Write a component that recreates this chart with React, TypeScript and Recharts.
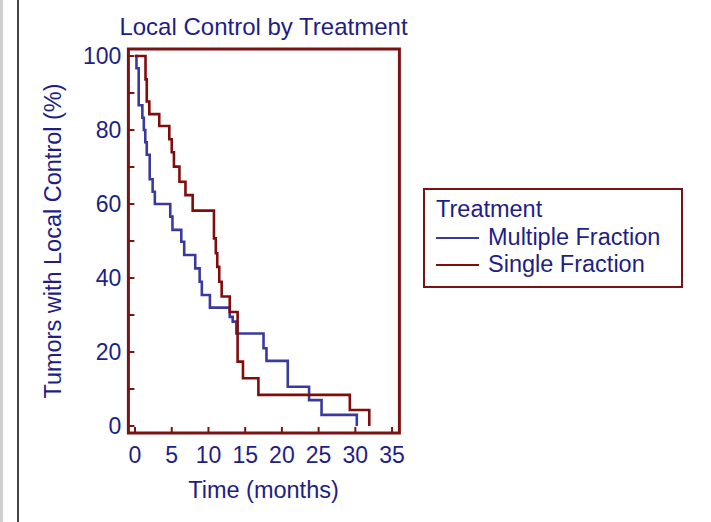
import React from 'react';
import { LineChart, Line, XAxis, YAxis, ReferenceArea, Legend } from 'recharts';

// Kaplan-Meier style step curves (months, % local control)
const multipleTime = [0, 0.2, 0.5, 1.0, 1.2, 1.4, 1.6, 2.0, 2.4, 2.7, 4.8, 5.1, 6.3, 6.7, 8.2, 8.8, 9.1, 10.2, 12.9, 13.3, 13.8, 17.5, 17.9, 20.8, 23.7, 25.4, 30.2];
const multipleLocal = [100, 96.7, 86.7, 83.3, 80, 76.7, 73.3, 66.7, 63.3, 60, 56.6, 53, 49.8, 46.2, 42.6, 39, 35.4, 32, 29.5, 28.2, 25, 21, 17.6, 10.6, 7, 3, 0];

const singleTime = [0, 1.43, 1.6, 1.95, 3.3, 4.67, 5.0, 5.3, 6.05, 6.87, 7.85, 10.75, 11.0, 11.2, 11.47, 11.8, 12.9, 13.97, 14.7, 16.8, 29.25, 31.9];
const singleLocal = [100, 93.7, 87.7, 84.3, 81.1, 77.5, 74, 70.1, 66, 62.4, 58.2, 50.7, 46.7, 43, 39, 35, 30.8, 17.4, 12.9, 8.4, 4.3, 0];

const xTicks = [0, 5, 10, 15, 20, 25, 30, 35];
const yTicks = [0, 10, 20, 30, 40, 50, 60, 70, 80, 90, 100];
const yLabelEvery = 20;

const xDomain: [number, number] = [-0.9, 36];
const yDomain: [number, number] = [-1.9, 101.9];

const NAVY = '#1e1e84';
const FRAME = '#7a1414';
const BLUE = '#3a3a9e';
const RED = '#800c0c';
const FONT = '"Liberation Sans", Arial, sans-serif';

const toSteps = (t: number[], v: number[]) => t.map((x, i) => ({ t: x, v: v[i] }));
const multipleData = toSteps(multipleTime, multipleLocal);
const singleData = toSteps(singleTime, singleLocal);

const YTick = (props: any) => {
  const { x, y, payload } = props;
  return (
    <g>
      <line x1={x} x2={x + 6} y1={y} y2={y} stroke={FRAME} strokeWidth={2} />
      {payload.value % yLabelEvery === 0 && (
        <text x={x - 7} y={y} dy={8} textAnchor="end" fill={NAVY} fontSize={23} fontFamily={FONT}>
          {payload.value}
        </text>
      )}
    </g>
  );
};

const XTick = (props: any) => {
  const { x, y, payload } = props;
  return (
    <g>
      <line x1={x} x2={x} y1={y} y2={y - 6} stroke={FRAME} strokeWidth={2} />
      <text x={x} y={y + 30} textAnchor="middle" fill={NAVY} fontSize={23} fontFamily={FONT}>
        {payload.value}
      </text>
    </g>
  );
};

const LegendBox = ({ payload }: any) => (
  <div
    style={{
      boxSizing: 'border-box',
      width: 260,
      height: 100,
      border: `2px solid ${FRAME}`,
      padding: '6px 0 0 11px',
      fontFamily: FONT,
      fontSize: 23.5,
      lineHeight: '27.5px',
      color: NAVY,
      background: '#fff',
    }}
  >
    <div>Treatment</div>
    {(payload || []).map((p: any) => (
      <div key={p.value} style={{ whiteSpace: 'nowrap' }}>
        <span
          style={{
            display: 'inline-block',
            width: 43,
            height: 0,
            borderTop: `2.5px solid ${p.color}`,
            verticalAlign: 'middle',
            marginRight: 9,
            marginTop: -1,
          }}
        />
        {p.value}
      </div>
    ))}
  </div>
);

export default function App() {
  return (
    <div style={{ position: 'absolute', left: 0, top: 0, width: 711, height: 522, background: '#fff', overflow: 'hidden' }}>
      <div style={{ position: 'absolute', left: 0, top: 0, width: 3, height: 522, background: '#cfcfcf' }} />
      <div style={{ position: 'absolute', left: 17, top: 0, width: 2, height: 522, background: '#444' }} />
      <LineChart width={711} height={522} margin={{ top: 49, right: 311.6, bottom: 0, left: 0 }}>
        <XAxis
          dataKey="t"
          type="number"
          domain={xDomain}
          ticks={xTicks}
          allowDataOverflow
          height={89}
          axisLine={false}
          tickLine={false}
          tickSize={0}
          tickMargin={0}
          tick={<XTick />}
        />
        <YAxis
          type="number"
          domain={yDomain}
          ticks={yTicks}
          allowDataOverflow
          width={128.4}
          axisLine={false}
          tickLine={false}
          tickSize={0}
          tickMargin={0}
          tick={<YTick />}
        />
        <ReferenceArea
          x1={xDomain[0]}
          x2={xDomain[1]}
          y1={yDomain[0]}
          y2={yDomain[1]}
          fill="none"
          fillOpacity={0}
          stroke={FRAME}
          strokeWidth={3}
        />
        <Line
          data={multipleData}
          type="stepAfter"
          dataKey="v"
          name="Multiple Fraction"
          stroke={BLUE}
          strokeWidth={2.6}
          dot={false}
          isAnimationActive={false}
        />
        <Line
          data={singleData}
          type="stepAfter"
          dataKey="v"
          name="Single Fraction"
          stroke={RED}
          strokeWidth={2.6}
          dot={false}
          isAnimationActive={false}
        />
        <Legend
          layout="vertical"
          align="center"
          verticalAlign="middle"
          content={<LegendBox />}
          wrapperStyle={{ left: 423, top: 188, width: 260, height: 100 }}
        />
      </LineChart>
      <svg width={711} height={522} style={{ position: 'absolute', left: 0, top: 0, pointerEvents: 'none' }}>
        <text x={263.5} y={35} textAnchor="middle" fill={NAVY} fontSize={24} fontFamily={FONT}>
          Local Control by Treatment
        </text>
        <text
          x={61}
          y={241}
          transform="rotate(-90 61 241)"
          textAnchor="middle"
          fill={NAVY}
          fontSize={23.5}
          fontFamily={FONT}
        >
          Tumors with Local Control (%)
        </text>
        <text x={263.5} y={498} textAnchor="middle" fill={NAVY} fontSize={23.5} fontFamily={FONT}>
          Time (months)
        </text>
      </svg>
    </div>
  );
}
